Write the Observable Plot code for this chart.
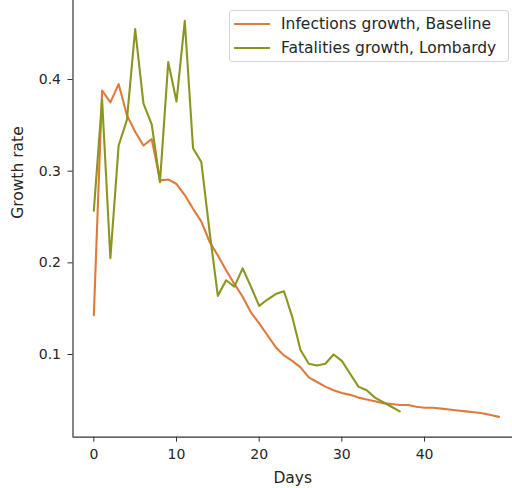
<!DOCTYPE html>
<html>
<head>
<meta charset="utf-8">
<script src="https://cdn.jsdelivr.net/npm/d3@7"></script>
<script src="https://cdn.jsdelivr.net/npm/@observablehq/plot@0.6"></script>
<style>
  body { margin: 0; background: #fff; }
  #wrap { position: relative; width: 512px; height: 488px; font-family: "DejaVu Sans", sans-serif; }
  #legend { position: absolute; left: 229px; top: 10px; width: 278px; height: 50px;
    border: 1px solid #d4d4d4; border-radius: 3px; background: rgba(255,255,255,0.8);
    font-size: 15.5px; color: #262626; }
  .row { position: absolute; left: 0; height: 20px; display: flex; align-items: center; white-space: nowrap; }
  .sw { width: 36px; height: 2px; margin-left: 4px; margin-right: 11px; flex: none; }
</style>
</head>
<body>
<div id="wrap"></div>
<script>
const days = d3.range(0, 50);
const infectionsBaseline = [
  0.143, 0.388, 0.375, 0.395, 0.361, 0.343, 0.328, 0.335, 0.290, 0.291,
  0.286, 0.274, 0.259, 0.245, 0.223, 0.208, 0.192, 0.177, 0.163, 0.146,
  0.134, 0.121, 0.108, 0.099, 0.093, 0.086, 0.075, 0.070, 0.065, 0.061,
  0.058, 0.056, 0.053, 0.051, 0.049, 0.047, 0.046, 0.045, 0.045, 0.043,
  0.042, 0.042, 0.041, 0.040, 0.039, 0.038, 0.037, 0.036, 0.034, 0.032
];
const fatalitiesLombardy = [
  0.257, 0.378, 0.205, 0.328, 0.356, 0.455, 0.374, 0.351, 0.288, 0.419,
  0.376, 0.464, 0.325, 0.310, 0.234, 0.164, 0.181, 0.174, 0.194, 0.174,
  0.153, 0.160, 0.166, 0.169, 0.141, 0.105, 0.090, 0.088, 0.090, 0.100,
  0.093, 0.079, 0.065, 0.061, 0.053, 0.048, 0.043, 0.038
];
const seriesNames = ["Infections growth, Baseline", "Fatalities growth, Lombardy"];
const seriesColors = ["#dd7b3c", "#8c9520"];
const xTicks = [0, 10, 20, 30, 40];
const yTicks = [0.1, 0.2, 0.3, 0.4];

const rows = [];
infectionsBaseline.forEach((v, i) => rows.push({day: days[i], value: v, series: seriesNames[0]}));
fatalitiesLombardy.forEach((v, i) => rows.push({day: days[i], value: v, series: seriesNames[1]}));

const xDom = [-2.52, 50.64];
const yDom = [0.0098, 0.4862];

const chart = Plot.plot({
  width: 512,
  height: 488,
  marginLeft: 72.5,
  marginRight: 0,
  marginTop: 0,
  marginBottom: 51.3,
  style: {fontFamily: "DejaVu Sans, sans-serif", fontSize: "14px", color: "#262626", background: "white"},
  x: {domain: xDom},
  y: {domain: yDom},
  color: {domain: seriesNames, range: seriesColors},
  marks: [
    Plot.axisX({ticks: xTicks, tickSize: 5, tickPadding: 7, tickFormat: d => String(d), label: null, stroke: "#333", fontSize: 14}),
    Plot.axisY({ticks: yTicks, tickSize: 5, tickPadding: 7, tickFormat: d => d.toFixed(1), label: null, stroke: "#333", fontSize: 14}),
    Plot.text(["Days"], {frameAnchor: "bottom", dy: 46, text: d => d, fontSize: 15.5, fill: "#262626"}),
    Plot.text(["Growth rate"], {frameAnchor: "left", dx: -55, rotate: -90, text: d => d, fontSize: 15.5, fill: "#262626"}),
    Plot.ruleY([yDom[0]], {stroke: "#333", strokeWidth: 1.2}),
    Plot.ruleX([xDom[0]], {stroke: "#333", strokeWidth: 1.2}),
    Plot.line(rows, {x: "day", y: "value", z: "series", stroke: "series", strokeWidth: 2.1})
  ]
});

const wrap = document.getElementById("wrap");
wrap.appendChild(chart);
const legend = document.createElement("div");
legend.id = "legend";
seriesNames.forEach((name, i) => {
  const row = document.createElement("div");
  row.className = "row";
  row.style.top = (i === 0 ? 3 : 27) + "px";
  const sw = document.createElement("span");
  sw.className = "sw";
  sw.style.background = seriesColors[i];
  const t = document.createElement("span");
  t.textContent = name;
  row.appendChild(sw);
  row.appendChild(t);
  legend.appendChild(row);
});
wrap.appendChild(legend);
</script>
</body>
</html>
